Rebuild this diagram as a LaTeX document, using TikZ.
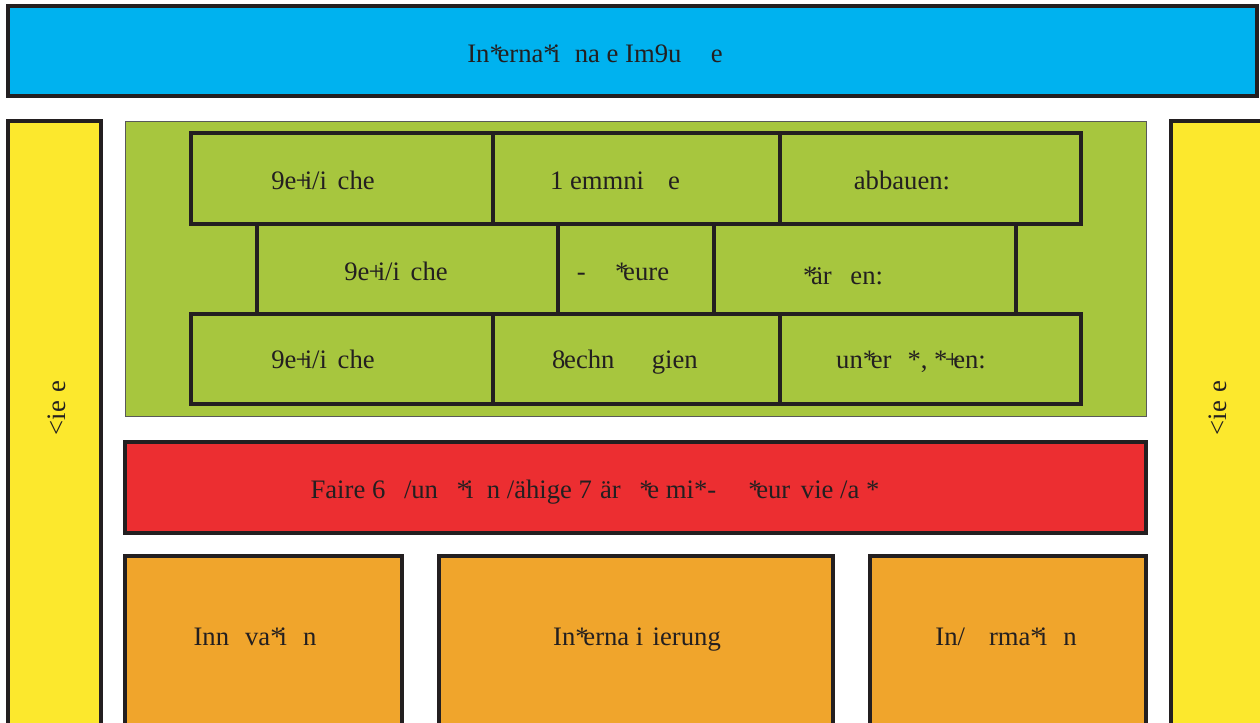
\documentclass[tikz,border=0pt]{standalone}
\usepackage{fontspec}
\setmainfont{Liberation Serif}
\definecolor{cblue}{RGB}{0,178,239}
\definecolor{cyel}{RGB}{252,232,45}
\definecolor{cgreen}{RGB}{167,198,62}
\definecolor{cred}{RGB}{236,46,49}
\definecolor{corange}{RGB}{240,165,44}
\definecolor{cline}{RGB}{35,31,32}
\definecolor{ctext}{RGB}{35,31,32}
\tikzset{
  box/.style={draw=cline, line width=2.6pt, inner sep=0pt, outer sep=0pt, anchor=north west},
  txt/.style={text=ctext, font=\fontsize{20}{24}\selectfont, inner sep=0pt, anchor=base},
}
\newcommand\rbox[6]{\node[box, fill=#6, minimum width={0.75pt*(#4-#2)}, minimum height={0.75pt*(#5-#3)}] (#1) at (#2,#3) {};}
\begin{document}
\begin{tikzpicture}[x=0.75pt,y=-0.75pt]
\useasboundingbox (0,0) rectangle (1260,723);
\clip (0,0) rectangle (1260,723);
\fill[white] (0,0) rectangle (1260,723);
% top bar
\rbox{top}{8}{6}{1257}{96}{cblue}
% side bars
\rbox{left}{8}{121}{101}{760}{cyel}
\rbox{right}{1171}{121}{1300}{760}{cyel}
% green field
\node[draw=gray!70!black, line width=0.6pt, fill=cgreen, inner sep=0pt, outer sep=0pt, anchor=north west, minimum width={0.75pt*1021}, minimum height={0.75pt*295}] (green) at (125,121) {};
% bricks row 1
\rbox{a1}{191}{133}{493}{224}{cgreen}
\rbox{a2}{493}{133}{780}{224}{cgreen}
\rbox{a3}{780}{133}{1081}{224}{cgreen}
% row 2
\rbox{b1}{257}{224}{558}{314}{cgreen}
\rbox{b2}{558}{224}{714}{314}{cgreen}
\rbox{b3}{714}{224}{1016}{314}{cgreen}
% row 3
\rbox{c1}{191}{314}{493}{404}{cgreen}
\rbox{c2}{493}{314}{780}{404}{cgreen}
\rbox{c3}{780}{314}{1081}{404}{cgreen}
% red
\rbox{red}{125}{442}{1146}{533}{cred}
% orange
\rbox{o1}{125}{556}{402}{760}{corange}
\rbox{o2}{439}{556}{833}{760}{corange}
\rbox{o3}{870}{556}{1146}{760}{corange}
% texts
\node[txt] (ttop) at (595,63) {In*\kern-.2em erna*\kern-.15em i\hspace{.55em}na e Im9u\hspace{1.1em}e};
\node[txt] (ta1) at (323,190) {9e\kern-.03em+\kern-.22em i/i\hspace{.4em}che};
\node[txt] (ta2) at (615,190) {1 emmni\hspace{.9em}e};
\node[txt] (ta3) at (902,190) {abbauen:};
\node[txt] (tb1) at (396,281) {9e\kern-.03em+\kern-.22em i/i\hspace{.4em}che};
\node[txt] (tb2) at (623,281) {-\hspace{1.1em}*\kern-.2em eure};
\node[txt] (tb3) at (843,285) {*\kern-.2em är\hspace{.7em}en:};
\node[txt] (tc1) at (323,369) {9e\kern-.03em+\kern-.22em i/i\hspace{.4em}che};
\node[txt] (tc2) at (625,369) {8\kern-.05em echn\hspace{1.4em}gien};
\node[txt] (tc3) at (911,369) {un*\kern-.2em er\hspace{.6em}*, *\kern-.1em+\kern-.25em en:};
\node[txt] (tred) at (595,498) {Faire 6\hspace{.7em}/un\hspace{.7em}*\kern-.15em i\hspace{.5em}n /ähige 7\hspace{.3em}är\hspace{.7em}*\kern-.2em e mi*-\hspace{1.2em}*\kern-.2em eur\hspace{.4em}vie /a *};
\node[txt] (to1) at (255,645) {Inn\hspace{.6em}va*\kern-.15em i\hspace{.6em}n};
\node[txt] (to2) at (637,645) {In*\kern-.2em erna i\hspace{.35em}ierung};
\node[txt] (to3) at (1006,645) {In/\hspace{.9em}rma*\kern-.15em i\hspace{.6em}n};
\node[txt, rotate=90, anchor=center] (tl) at (57,408) {<ie\hspace{.3em}e};
\node[txt, rotate=90, anchor=center] (tr) at (1218,408) {<ie\hspace{.3em}e};
\end{tikzpicture}
\end{document}
